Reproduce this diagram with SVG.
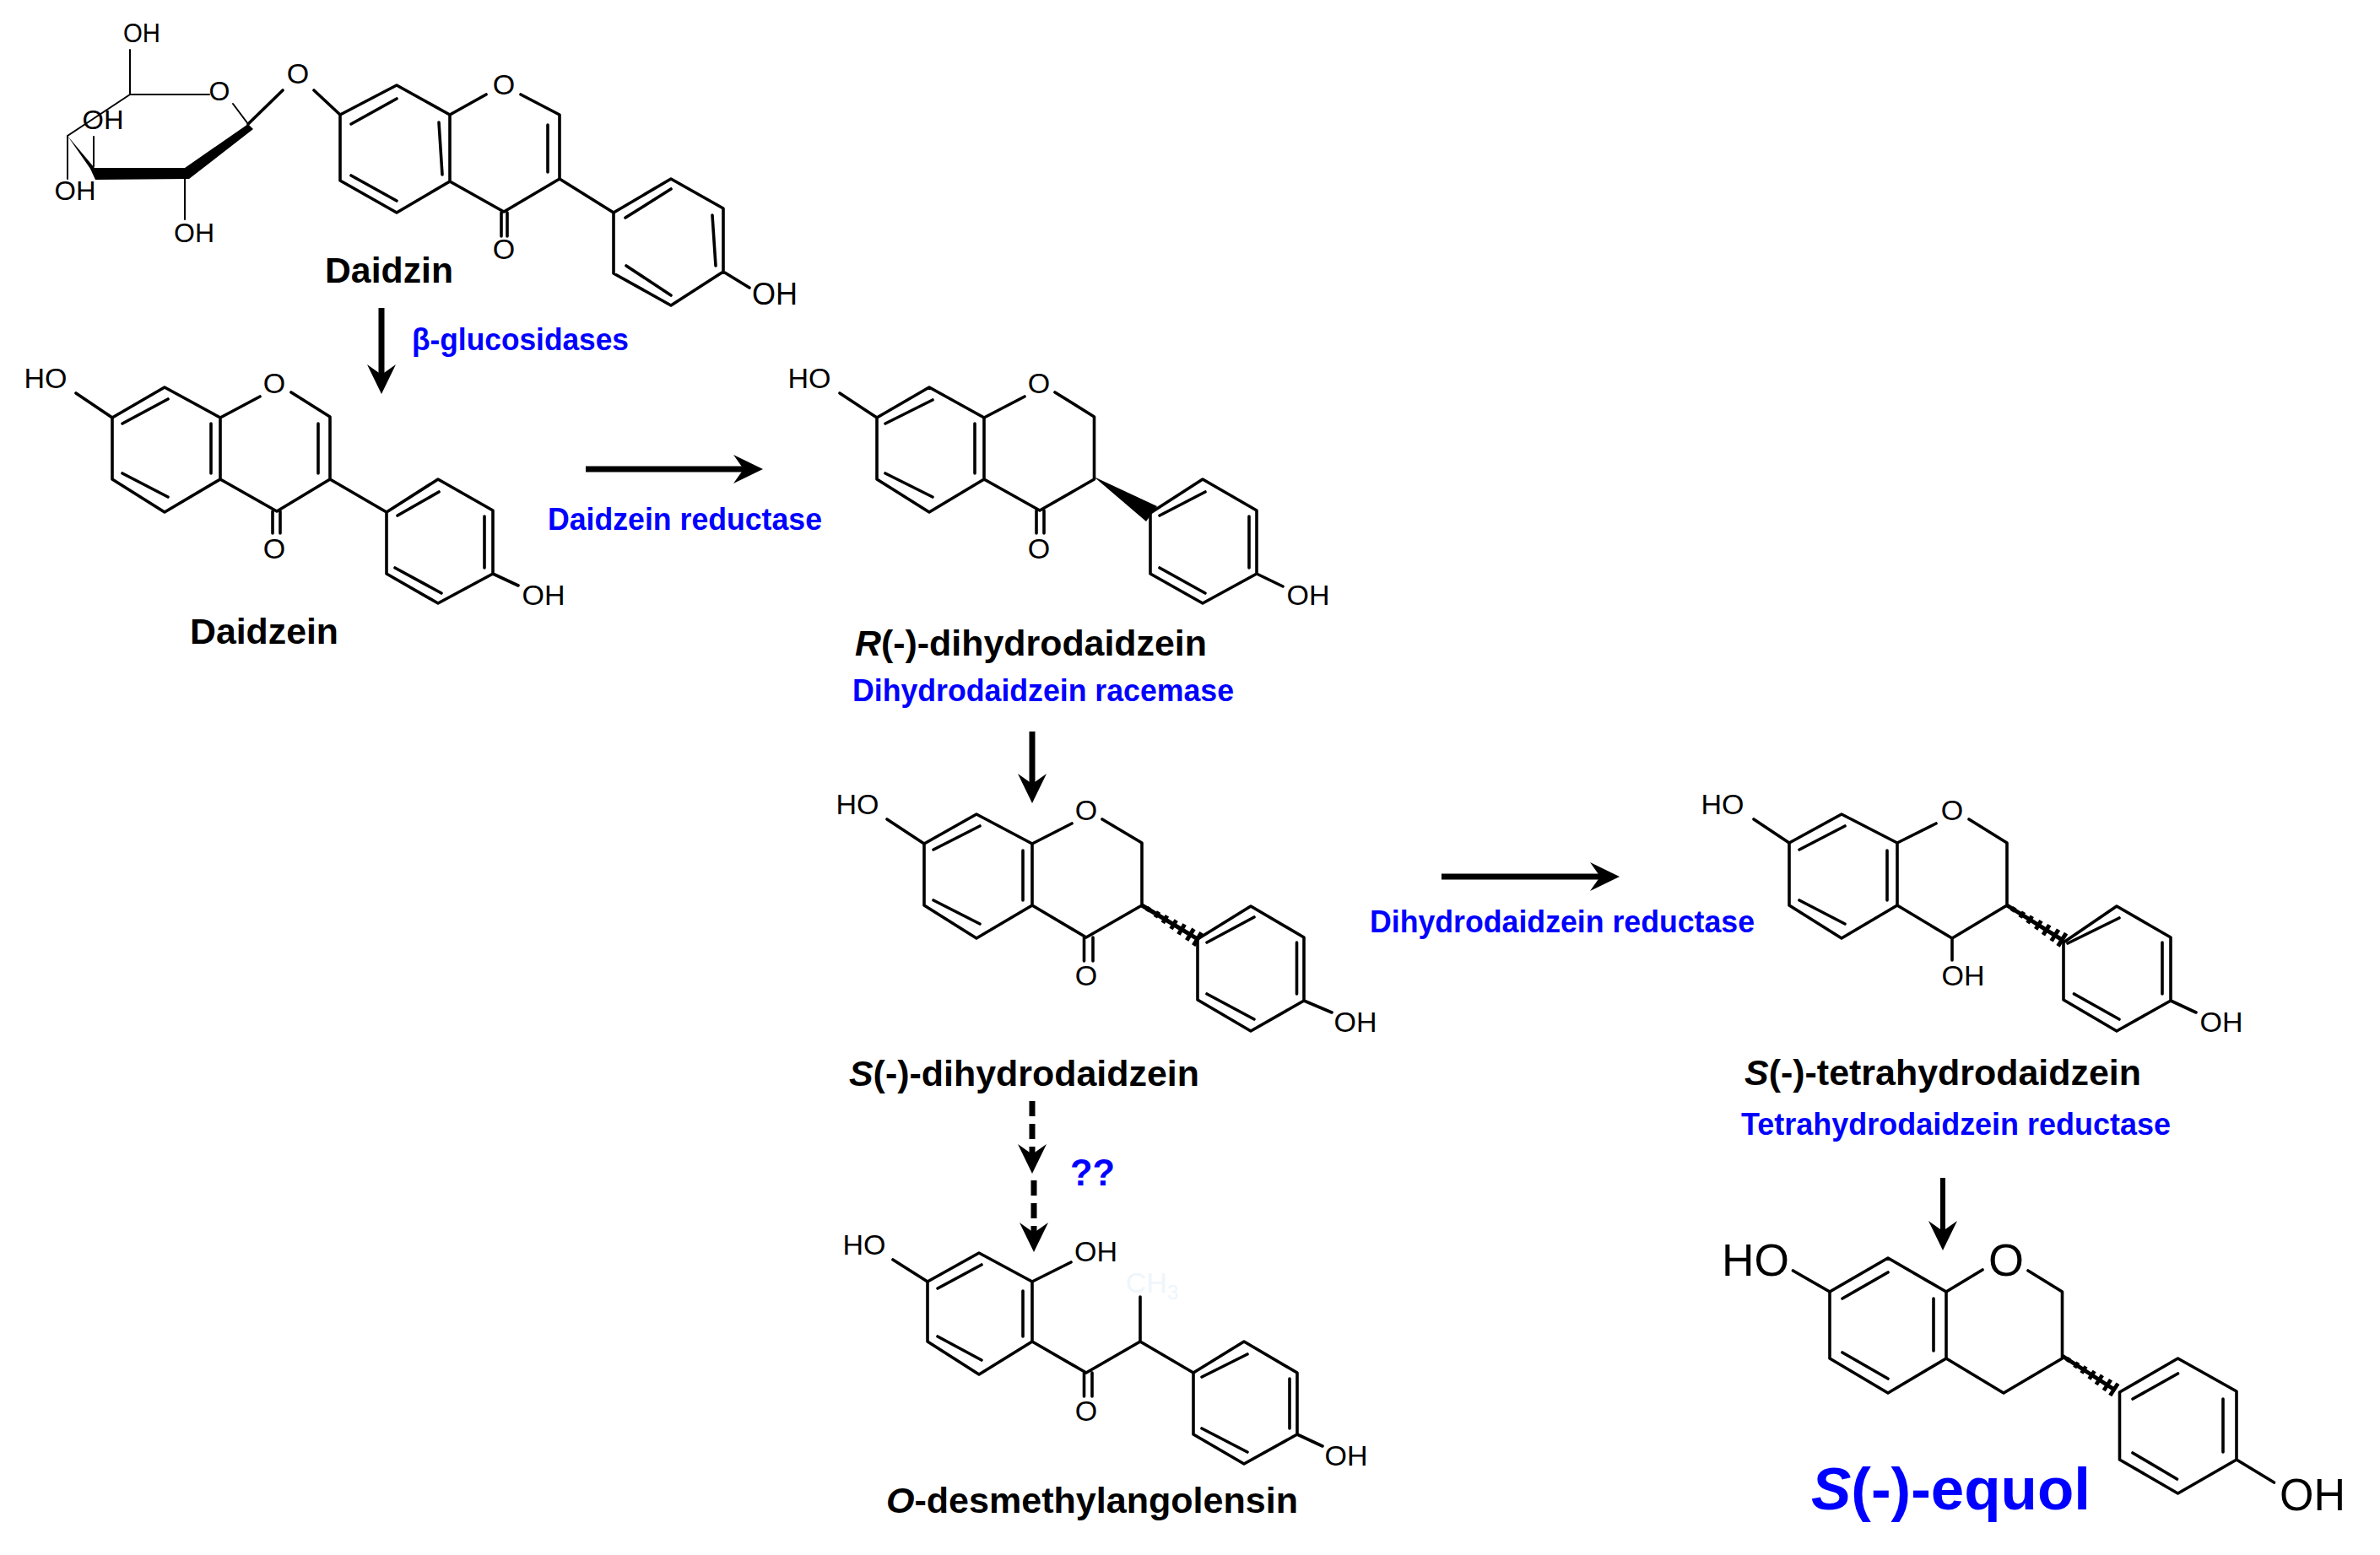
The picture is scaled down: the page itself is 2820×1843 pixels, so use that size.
<svg xmlns="http://www.w3.org/2000/svg" width="2820" height="1843" viewBox="0 0 2820 1843">
<style>
text{font-family:"Liberation Sans",Arial,sans-serif;fill:#000}
.a{font-size:34px;text-anchor:middle}
.s{font-size:32px;text-anchor:middle}
.e{font-size:54px;text-anchor:middle}
.n{font-size:42px;font-weight:700}
.t{font-size:36px;font-weight:700;fill:#00f}
.b{fill:none;stroke:#000;stroke-width:3.600;stroke-linecap:round;stroke-linejoin:round}
.th{fill:none;stroke:#000;stroke-width:2;stroke-linecap:round}
.c{fill:none;stroke:#000;stroke-width:7}
.d{stroke-dasharray:18 9}
.i{font-style:italic}
</style>
<defs>
<marker id="head" markerUnits="userSpaceOnUse" markerWidth="40" markerHeight="40" refX="13" refY="20" orient="auto"><path d="M0 3L35 20L0 37L12 20Z" fill="#000"/></marker>
<path id="hash" d="M0 0H77M9-3V3M21-4V4M32-5V5M44-6V6M55-7V7M67-8V8M77-9V9" fill="none" stroke="#000" stroke-width="5"/>
</defs>
<rect width="2820" height="1843" fill="#fff"/>

<g id="connectors">
<path class="c" marker-end="url(#head)" d="M452 365V445"/>
<path class="c" marker-end="url(#head)" d="M694 556H882"/>
<path class="c" marker-end="url(#head)" d="M1223 867V930"/>
<path class="c d" marker-end="url(#head)" d="M1223 1305V1369"/>
<path class="c d" marker-end="url(#head)" d="M1225 1399V1462"/>
<path class="c" marker-end="url(#head)" d="M1708 1039H1897"/>
<path class="c" style="stroke-width:6" marker-end="url(#head)" d="M2302 1396V1460"/>
</g>

<g id="daidzin">
<path class="b" d="M403 136L470 101L533 136V215L470 252L403 214ZM416 147L470 117M416 208L470 238M520 145L524 207M533 136L576 112M617 112L663 136V212L597 251L533 215M649 148V204M594 252V280M601 252V280M663 212L727 252M727 252L795 212L857 247V322L795 362L727 324ZM741 258L795 224M844 255L848 315M742 315L795 350M857 322L888 341M372 107L403 136M294 147L335 107"/>
<path class="th" d="M154 59V112H248M276 123L294 147M154 112L80 161V212M111 162V197M219 208V260"/>
<path fill="#000" d="M294 147L300 153L224 212L113 213L107 200L80 161L112 199L219 199Z"/>
<text class="s" x="168" y="50" textLength="44" lengthAdjust="spacingAndGlyphs">OH</text>
<text class="s" x="122" y="153" textLength="49" lengthAdjust="spacingAndGlyphs">OH</text>
<text class="s" x="89" y="237" textLength="49" lengthAdjust="spacingAndGlyphs">OH</text>
<text class="s" x="230" y="287" textLength="48" lengthAdjust="spacingAndGlyphs">OH</text>
<text class="a" x="353" y="99">O</text>
<text class="s" x="260" y="119">O</text>
<text class="a" x="597" y="112">O</text>
<text class="a" x="597" y="307">O</text>
<text class="a" style="font-size:36px" x="918" y="361">OH</text>
<text class="n" x="385" y="335" textLength="152" lengthAdjust="spacingAndGlyphs">Daidzin</text>
<text class="t" x="488" y="415" textLength="257" lengthAdjust="spacingAndGlyphs">β-glucosidases</text>
</g>

<g id="daidzein">
<path class="b" d="M90 466L133 495M133 495L195 459L261 495V568L195 607L133 568ZM145 502L199 473M145 561L199 589M250 502V561M261 495L308 470M345 465L391 494V568L328 606L261 568M377 502V561M323 606V632M332 606V632M391 568L458 607M458 607L519 568L584 605V680L519 715L458 680ZM471 611L520 583M574 612V673M468 673L523 703M584 680L614 694"/>
<text class="a" x="54" y="460">HO</text>
<text class="a" x="325" y="466">O</text>
<text class="a" x="325" y="662">O</text>
<text class="a" x="644" y="717">OH</text>
<text class="n" x="225" y="763" textLength="176" lengthAdjust="spacingAndGlyphs">Daidzein</text>
</g>

<text id="label-daidzein-reductase" class="t" x="649" y="628" textLength="325" lengthAdjust="spacingAndGlyphs">Daidzein reductase</text>

<g id="r-dihydrodaidzein">
<path class="b" d="M995 466L1039 495M1039 495L1101 459L1166 495V568L1101 607L1039 568ZM1049 502L1105 474M1049 561L1105 589M1155 502V561M1166 495L1214 470M1250 465L1296.500 494V568L1232 605L1166 568M1228 605V632M1237 605V632M1363 608L1425 568L1489 605V680L1425 715L1363 680ZM1374 611L1428 583M1480 612V673M1374 673L1428 703M1489 680L1520 695"/>
<path fill="#000" d="M1296 565L1371 600L1358 618Z"/>
<text class="a" x="959" y="460">HO</text>
<text class="a" x="1231" y="466">O</text>
<text class="a" x="1231" y="662">O</text>
<text class="a" x="1550" y="717">OH</text>
<text class="n" x="1013" y="777" textLength="417" lengthAdjust="spacingAndGlyphs"><tspan class="i">R</tspan>(-)-dihydrodaidzein</text>
<text class="t" x="1010" y="831" textLength="452" lengthAdjust="spacingAndGlyphs">Dihydrodaidzein racemase</text>
</g>

<g id="s-dihydrodaidzein">
<path class="b" d="M1051 971L1095 1000M1095 1000L1157 965L1223 1000V1073L1157 1112L1095 1073ZM1106 1007L1161 979M1106 1067L1161 1095M1212 1008V1067M1223 1000L1270 976M1306 971L1353 999V1073L1287 1111L1223 1073M1284.500 1111V1139M1295 1111V1139M1419 1113L1482 1074L1545 1111V1186L1482 1222L1419 1185ZM1430 1117L1486 1087M1536.500 1117V1178M1430 1178L1486 1208M1545 1186L1578 1200"/>
<use href="#hash" transform="translate(1353 1073) rotate(31.200)"/>
<text class="a" x="1016" y="965">HO</text>
<text class="a" x="1287" y="972">O</text>
<text class="a" x="1287" y="1168">O</text>
<text class="a" x="1606" y="1223">OH</text>
<text class="n" x="1006" y="1287" textLength="415" lengthAdjust="spacingAndGlyphs"><tspan class="i">S</tspan>(-)-dihydrodaidzein</text>
</g>

<text id="label-unknown" class="t" style="font-size:44px" x="1268" y="1405" textLength="53" lengthAdjust="spacingAndGlyphs">??</text>

<g id="o-desmethylangolensin">
<path class="b" d="M1058 1493L1099 1519M1099 1519L1160 1485L1223 1519V1590L1160 1629L1099 1590ZM1111 1527L1163 1499M1212 1530V1584M1111 1584L1163 1612M1223 1519L1269 1496M1223 1590L1287 1627L1351 1590L1414 1627M1414 1627L1474 1590L1537 1627V1700L1474 1735L1414 1700ZM1351 1590V1537M1284.500 1627V1655M1294 1627V1655M1424 1632L1478 1605M1528 1634V1693M1424 1693L1478 1721M1537 1700L1567 1714"/>
<text class="a" x="1024" y="1487">HO</text>
<text class="a" x="1298.500" y="1495">OH</text>
<text class="a" x="1287" y="1684">O</text>
<text class="a" x="1595" y="1737">OH</text>
<text class="a" x="1365" y="1532" style="fill:#eef6fb">CH<tspan font-size="24" dy="8">3</tspan></text>
<text class="n" x="1050" y="1793" textLength="488" lengthAdjust="spacingAndGlyphs"><tspan class="i">O</tspan>-desmethylangolensin</text>
</g>

<text id="label-dihydrodaidzein-reductase" class="t" x="1623" y="1105" textLength="456" lengthAdjust="spacingAndGlyphs">Dihydrodaidzein reductase</text>

<g id="s-tetrahydrodaidzein">
<path class="b" d="M2078 971L2120 999M2120 999L2182 965L2248 999V1073L2182 1112L2120 1073ZM2132 1007L2186 979M2132 1067L2186 1095M2236 1008V1067M2248 999L2294 976M2333 971L2378 999V1073L2313 1112L2248 1073M2313 1112V1138M2445 1117L2508 1074L2572 1111V1186L2508 1222L2445 1185ZM2450 1118L2511 1088M2562 1117V1178M2457.500 1178L2511 1208M2572 1186L2602 1200"/>
<use href="#hash" transform="translate(2378 1073) rotate(32)"/>
<text class="a" x="2041" y="965">HO</text>
<text class="a" x="2313" y="972">O</text>
<text class="a" x="2326" y="1168">OH</text>
<text class="a" x="2632" y="1223">OH</text>
<text class="n" x="2067" y="1286" textLength="470" lengthAdjust="spacingAndGlyphs"><tspan class="i">S</tspan>(-)-tetrahydrodaidzein</text>
<text class="t" x="2063" y="1345" textLength="509" lengthAdjust="spacingAndGlyphs">Tetrahydrodaidzein reductase</text>
</g>

<g id="s-equol">
<path class="b" d="M2124.500 1506L2168 1531M2168 1531L2237 1491L2306 1531V1610L2237 1651L2168 1610ZM2183 1539L2237 1508M2183 1603L2237 1634M2291 1539V1601M2306 1531L2349 1505M2403 1506L2443.500 1531V1610L2374 1651L2306 1610M2511.500 1650L2580.500 1610L2650 1649V1730L2580.500 1770L2511.500 1730ZM2527 1658L2580.500 1628M2634 1658V1721M2527 1722L2579.500 1753M2650 1730L2694.500 1757"/>
<use href="#hash" transform="translate(2443.500 1607) rotate(33) scale(.95)"/>
<text class="e" x="2080" y="1512" textLength="80" lengthAdjust="spacingAndGlyphs">HO</text>
<text class="e" x="2377" y="1512">O</text>
<text class="e" x="2740" y="1790" textLength="78" lengthAdjust="spacingAndGlyphs">OH</text>
<text class="n" style="font-size:70px;fill:#00f" x="2146" y="1789" textLength="331" lengthAdjust="spacingAndGlyphs"><tspan class="i">S</tspan>(-)-equol</text>
</g>
</svg>
